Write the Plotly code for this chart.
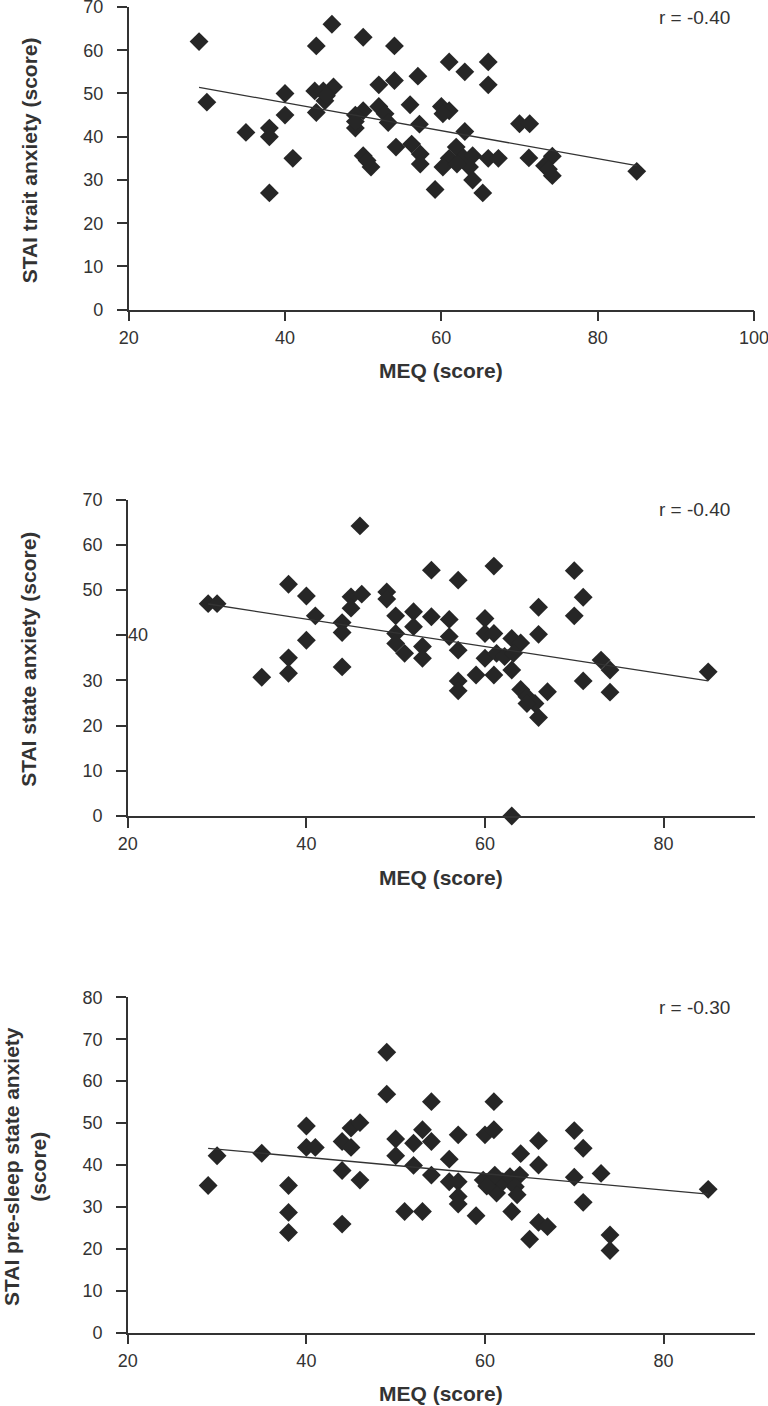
import numpy as np
import plotly.graph_objects as go

W, H = 768, 1406

# ---------------- data ----------------
meq_trait = [29, 30, 35, 38, 38, 38, 40, 40, 41, 44, 46,
             43.8, 46.2, 45.1, 44, 44.9, 45.3,
             50, 52, 54, 54, 57, 50, 49, 49, 49, 52, 52.8, 53.2, 56, 57.2, 50, 51, 50.5,
             54.2, 56.2, 57.3, 57.3, 59.2,
             61, 63, 66, 66, 60, 61, 60.2, 63, 70, 71.3,
             61.9, 61, 60.2, 62.8, 64, 63.6, 62, 66, 67.3, 64, 65.3,
             71.2, 74.2, 73.2, 74.2, 73.7, 85]
stai_trait = [62, 48, 41, 42, 40, 27, 50, 45, 35, 61, 66,
              50.6, 51.5, 48.3, 45.6, 50.6, 49.5,
              63, 52, 61, 53, 54, 46, 45, 42, 43.5, 47, 45.3, 43.3, 47.4, 42.9, 35.6, 33, 34.5,
              37.6, 38.3, 36, 33.7, 27.8,
              57.3, 55, 57.3, 52, 47, 46, 45.3, 41.2, 43, 43,
              37.6, 35, 33, 35.2, 35.6, 33, 33.7, 35, 35, 30, 27,
              35.1, 35.5, 33.3, 31, 32.5, 32]

meq_state = [29, 30, 35, 38, 38, 38, 40, 40, 41, 44, 44, 44, 46, 45, 46.2, 45, 49, 49, 50, 50,
             50, 51, 52, 52, 53, 53, 54, 54,
             57, 61, 70, 71, 70, 66, 66, 56, 60, 60, 61, 56, 57, 63, 64, 60, 61.3, 62.2,
             63.2, 63, 61, 59, 57, 57, 64, 64.7, 65.6, 64.7, 66, 67, 73, 74, 71, 74, 85, 63]
stai_state = [47, 47, 30.7, 51.3, 35, 31.6, 48.7, 38.9, 44.3, 42.8, 40.6, 33, 64.2, 48.5, 49.1, 46,
              49.6, 48, 44.3, 40.4, 38.2, 36, 45.2, 41.9, 37.5, 34.9, 54.4, 44.1,
              52.2, 55.3, 54.3, 48.4, 44.3, 46.2, 40.2, 43.5, 43.7, 40.4, 40.4, 39.7, 36.7,
              39.3, 38.3, 34.9, 36, 35.3, 36, 32.3, 31.2, 31.2, 29.9, 27.7, 28, 26.4, 24.9,
              24.9, 21.8, 27.5, 34.5, 32.3, 29.9, 27.4, 31.9, 0]

meq_presleep = [29, 30, 35, 38, 38, 38, 40, 40, 41, 44, 44, 44, 45, 46, 45, 46, 49, 49, 50, 50,
                51, 52, 52, 53, 53, 54,
                54, 57, 60, 61, 61, 56, 54, 56, 57, 57, 57, 59,
                59.8, 60.7, 61.3, 62, 62.8, 63.9, 63.4, 63.6, 60.2, 61.1,
                63, 64, 66, 66, 66, 67, 65, 70, 71, 70, 71, 73, 74, 74, 85]
stai_presleep = [35.1, 42.2, 42.8, 35.1, 28.7, 23.9, 49.3, 44.2, 44.2, 45.6, 38.7, 25.9, 48.8,
                 50.1, 44.2, 36.4, 66.9, 56.9, 46.2, 42.2, 28.9, 45.2, 39.9, 28.9, 48.4, 55.1,
                 45.6, 47.2, 47.2, 48.4, 55.1, 41.4, 37.6, 36, 36, 32.5, 30.7, 27.9,
                 36.4, 35.3, 33.3, 36, 37.2, 37.6, 34.8, 32.9, 35, 37.6,
                 28.9, 42.7, 45.8, 40, 26.3, 25.3, 22.3, 48.2, 44, 37.1, 31.1, 38, 23.3, 19.6, 34.2]

r_labels = ["r = -0.40", "r = -0.40", "r = -0.30"]
y_titles = ["STAI trait anxiety (score)", "STAI state anxiety (score)",
            "STAI pre-sleep state anxiety<br>(score)"]
x_title = "MEQ (score)"

x_ticks_1 = [20, 40, 60, 80, 100]
x_ticks_23 = [20, 40, 60, 80]
y_ticks_12 = [0, 10, 20, 30, 40, 50, 60, 70]
y_ticks_3 = [0, 10, 20, 30, 40, 50, 60, 70, 80]

# ---------------- styling ----------------
FONT = "Liberation Sans, Arial, Helvetica, sans-serif"
INK = "#333333"
MARK = "#262626"


def px_x(p):
    return p / W


def px_y(p):
    return 1 - p / H


fig = go.Figure()

datasets = [(meq_trait, stai_trait), (meq_state, stai_state), (meq_presleep, stai_presleep)]
for i, (xs, ys) in enumerate(datasets):
    suf = "" if i == 0 else str(i + 1)
    xa, ya = "x" + suf, "y" + suf
    fig.add_trace(go.Scatter(
        x=xs, y=ys, mode="markers", xaxis=xa, yaxis=ya, cliponaxis=False,
        marker=dict(symbol="diamond", size=14.5, color=MARK, line=dict(width=0)),
        showlegend=False, hoverinfo="x+y"))
    xa_arr = np.array(xs, dtype=float)
    ya_arr = np.array(ys, dtype=float)
    slope, icpt = np.polyfit(xa_arr, ya_arr, 1)
    lx = np.array([xa_arr.min(), xa_arr.max()])
    fig.add_trace(go.Scatter(
        x=lx, y=slope * lx + icpt, mode="lines", xaxis=xa, yaxis=ya,
        line=dict(color=INK, width=1.3), showlegend=False, hoverinfo="skip"))

axis_common = dict(showline=True, linecolor=INK, linewidth=1.5, ticks="outside", ticklen=10,
                   tickwidth=1.5, tickcolor=INK, showgrid=False, zeroline=False,
                   automargin=False, ticklabeloverflow="allow",
                   tickfont=dict(family=FONT, size=18, color=INK), fixedrange=True)

panels = [
    # x domain px, y domain px (top, bottom), x range, y range, x ticks, y ticks
    ((128.7, 754.0), (7.0, 309.7), [20, 100], [0, 70], x_ticks_1, y_ticks_12),
    ((127.8, 755.0), (499.7, 816.0), [20, 90.24], [0, 70], x_ticks_23, y_ticks_12),
    ((127.8, 755.0), (997.3, 1332.7), [20, 90.24], [0, 80], x_ticks_23, y_ticks_3),
]

layout = dict(width=W, height=H, margin=dict(l=0, r=0, t=0, b=0, autoexpand=False),
              template="none",
              paper_bgcolor="white", plot_bgcolor="white", showlegend=False,
              font=dict(family=FONT, color=INK))
annotations = []
for i, (xd, yd, xr, yr, xt, yt) in enumerate(panels):
    suf = "" if i == 0 else str(i + 1)
    ytext = [str(v) for v in yt]
    if i == 1:
        ytext = ["" if v == 40 else str(v) for v in yt]
    layout["xaxis" + suf] = dict(axis_common, domain=[px_x(xd[0]), px_x(xd[1])], range=xr,
                                 tickvals=xt, ticktext=[str(v) for v in xt],
                                 anchor="y" + suf, ticklabelstandoff=1)
    layout["yaxis" + suf] = dict(axis_common, domain=[px_y(yd[1]), px_y(yd[0])], range=yr,
                                 tickvals=yt, ticktext=ytext, anchor="x" + suf,
                                 ticklabelstandoff=10)
    # r label
    annotations.append(dict(text=r_labels[i], xref="paper", yref="paper",
                            x=px_x(694), y=px_y(yd[0] + 10), xanchor="center", yanchor="middle",
                            showarrow=False, font=dict(family=FONT, size=19, color=INK)))
    # x title
    annotations.append(dict(text="<b>" + x_title + "</b>", xref="paper", yref="paper",
                            x=px_x((xd[0] + xd[1]) / 2), y=px_y(yd[1] + 61),
                            xanchor="center", yanchor="middle", showarrow=False,
                            font=dict(family=FONT, size=21, color=INK)))
    # y title
    ty = y_titles[i]
    annotations.append(dict(text="<b>" + ty.replace("<br>", "</b><br><b>") + "</b>",
                            xref="paper", yref="paper",
                            x=px_x(29 if i < 2 else 25), y=px_y((yd[0] + yd[1]) / 2 + 2),
                            xanchor="center", yanchor="middle", textangle=-90,
                            showarrow=False, font=dict(family=FONT, size=21, color=INK)))

# misplaced "40" tick label on the second panel
annotations.append(dict(text="40", xref="x2", yref="y2", x=20, y=40, xanchor="left",
                        yanchor="middle", showarrow=False, xshift=-2,
                        font=dict(family=FONT, size=18, color=INK)))

layout["annotations"] = annotations
fig.update_layout(**layout)

fig.write_html("out.html", config={"displayModeBar": False},
               post_script="document.body.style.margin='0';document.body.style.padding='0';")
